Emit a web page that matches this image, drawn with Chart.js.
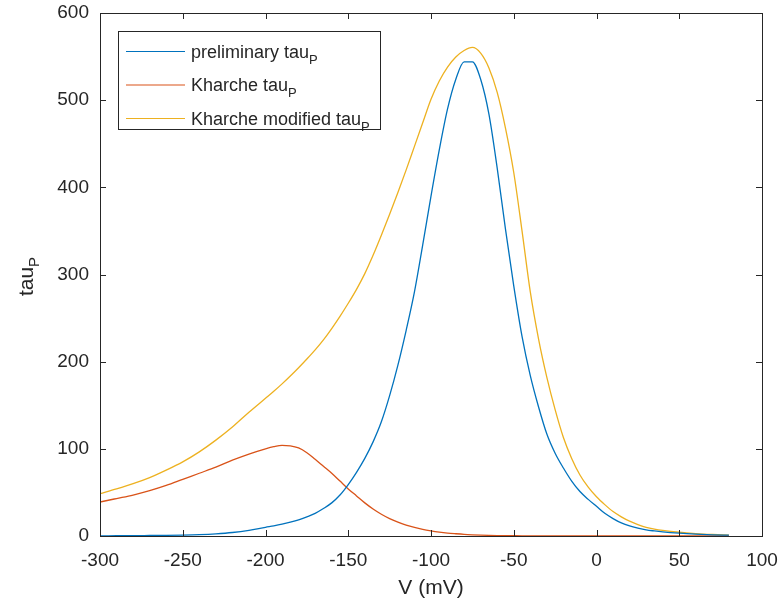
<!DOCTYPE html>
<html>
<head>
<meta charset="utf-8">
<script src="https://cdn.jsdelivr.net/npm/chart.js@4/dist/chart.umd.min.js"></script>
<style>
    html, body { margin: 0; padding: 0; background: #fff; }
    #wrap { width: 781px; height: 604px; position: relative; }
</style>
</head>
<body>
<div id="wrap"><canvas id="tauChart" width="781" height="604"></canvas></div>
<script>
// Membrane voltage samples (mV)
const voltages = [-300, -290, -280, -270, -260, -250, -240, -230, -220, -210, -200,
    -195, -190, -185, -180, -175, -170, -165, -160, -155, -150, -145, -140, -135, -130, -125,
    -120, -115, -110, -105, -100, -95, -90, -85, -80, -75, -70, -65, -60, -55, -50, -45,
    -40, -35, -30, -25, -20, -15, -10, -5, 0, 5, 10, 15, 20, 25, 30, 35, 40,
    50, 60, 70, 80];

// tau_P curves
const preliminaryTau = [0.2, 0.3, 0.4, 0.6, 0.8, 1.1, 1.6, 2.5, 4, 6.5, 10,
    11.6, 13.5, 15.8, 18.5, 22, 26, 31.5, 38, 47, 59, 73, 89, 108, 131, 161,
    196, 236, 280, 334, 390, 443, 490, 524, 544, 544, 524, 484, 422, 352, 287, 229,
    184, 148, 117, 95, 78, 63, 51, 42, 34, 26, 20, 15, 11.5, 9, 7, 5.8, 4.8,
    3.3, 2.2, 1.4, 0.9];
const kharcheTau = [39, 43, 47, 52, 58, 65, 72, 79, 87, 94, 100,
    102.5, 104, 103.5, 101, 95.5, 88, 80, 72, 63, 54, 46, 38, 31, 25, 20,
    16, 12.5, 9.8, 7.6, 5.9, 4.5, 3.4, 2.6, 1.9, 1.4, 1.0, 0.7, 0.5, 0.4, 0.3, 0.2,
    0.15, 0.1, 0.08, 0.06, 0.04, 0.03, 0.02, 0.01, 0, 0, 0, 0, 0, 0, 0, 0, 0,
    0, 0, 0, 0];
const kharcheModifiedTau = [48.5, 54, 60, 67, 75.5, 85, 96.5, 110, 125, 142, 158,
    166, 174.5, 183.5, 193, 203, 213.5, 225, 238, 252, 267, 283, 301, 322, 345, 369,
    394, 420, 447, 474, 501, 522, 538, 549.5, 557, 560.5, 554, 537, 509, 468, 417, 350,
    280, 226, 182, 145, 113, 89, 70, 56, 45, 36, 28, 22, 17, 13, 10, 8, 6.5,
    4.3, 2.8, 1.8, 1.1];

const seriesNames = ['preliminary tau', 'Kharche tau', 'Kharche modified tau'];
const seriesColors = ['#0072BD', '#D95319', '#EDB120'];

const xTicks = [-300, -250, -200, -150, -100, -50, 0, 50, 100];
const yTicks = [0, 100, 200, 300, 400, 500, 600];

const AXIS_COLOR = '#262626';
const FONT = 'Arial, "Liberation Sans", Helvetica, sans-serif';

function toPoints(values) {
    return voltages.map((v, i) => ({ x: v, y: values[i] }));
}

// MATLAB-like box, inward ticks, y label with subscript and legend
const matlabAxesPlugin = {
    id: 'matlabAxes',
    afterDraw: (chart) => {
        const ctx = chart.ctx;
        const area = chart.chartArea;
        const xs = chart.scales.x;
        const ys = chart.scales.y;
        const tick = 6;

        ctx.save();
        ctx.strokeStyle = AXIS_COLOR;
        ctx.lineWidth = 1;
        ctx.strokeRect(Math.round(area.left) + 0.5, Math.round(area.top) + 0.5,
            Math.round(area.right - area.left), Math.round(area.bottom - area.top));

        ctx.beginPath();
        xTicks.forEach(v => {
            const px = Math.round(xs.getPixelForValue(v)) + 0.5;
            ctx.moveTo(px, area.bottom);
            ctx.lineTo(px, area.bottom - tick);
            ctx.moveTo(px, area.top);
            ctx.lineTo(px, area.top + tick);
        });
        yTicks.forEach(v => {
            const py = Math.round(ys.getPixelForValue(v)) + 0.5;
            ctx.moveTo(area.left, py);
            ctx.lineTo(area.left + tick, py);
            ctx.moveTo(area.right, py);
            ctx.lineTo(area.right - tick, py);
        });
        ctx.stroke();

        // y axis title: tau_P, rotated
        ctx.fillStyle = AXIS_COLOR;
        ctx.translate(33, (area.top + area.bottom) / 2 + 2);
        ctx.rotate(-Math.PI / 2);
        ctx.font = '21px ' + FONT;
        const baseW = ctx.measureText('tau').width;
        ctx.font = '15px ' + FONT;
        const subW = ctx.measureText('P').width;
        const startX = -(baseW + subW) / 2;
        ctx.textBaseline = 'alphabetic';
        ctx.textAlign = 'left';
        ctx.font = '21px ' + FONT;
        ctx.fillText('tau', startX, 0);
        ctx.font = '15px ' + FONT;
        ctx.fillText('P', startX + baseW, 6);
        ctx.restore();

        // legend
        ctx.save();
        const box = { left: 118.5, top: 31.5, right: 380.5, bottom: 129.5 };
        ctx.fillStyle = '#fff';
        ctx.fillRect(box.left, box.top, box.right - box.left, box.bottom - box.top);
        ctx.strokeStyle = AXIS_COLOR;
        ctx.lineWidth = 1;
        ctx.strokeRect(box.left, box.top, box.right - box.left, box.bottom - box.top);
        const rows = [51.5, 85, 118.5];
        seriesNames.forEach((name, i) => {
            const y = rows[i];
            ctx.strokeStyle = seriesColors[i];
            ctx.lineWidth = 1.2;
            ctx.beginPath();
            ctx.moveTo(126, y);
            ctx.lineTo(185, y);
            ctx.stroke();
            ctx.fillStyle = AXIS_COLOR;
            ctx.textBaseline = 'alphabetic';
            ctx.textAlign = 'left';
            ctx.font = '18px ' + FONT;
            ctx.fillText(name, 191, y + 6);
            const w = ctx.measureText(name).width;
            ctx.font = '13px ' + FONT;
            ctx.fillText('P', 191 + w, y + 12);
        });
        ctx.restore();
    }
};

Chart.register(matlabAxesPlugin);

const ctx = document.getElementById('tauChart').getContext('2d');
const chart = new Chart(ctx, {
    type: 'line',
    data: {
        datasets: [preliminaryTau, kharcheTau, kharcheModifiedTau].map((vals, i) => ({
            label: seriesNames[i] + 'P',
            data: toPoints(vals),
            borderColor: seriesColors[i],
            backgroundColor: seriesColors[i],
            borderWidth: 1.3,
            pointRadius: 0,
            fill: false,
            cubicInterpolationMode: 'monotone'
        }))
    },
    options: {
        responsive: false,
        animation: false,
        layout: { padding: { top: 13, right: 19, left: 0, bottom: 0 } },
        plugins: {
            legend: { display: false },
            tooltip: { enabled: false }
        },
        scales: {
            x: {
                type: 'linear',
                min: -300,
                max: 100,
                afterBuildTicks: (scale) => { scale.ticks = xTicks.map(v => ({ value: v })); },
                afterFit: (scale) => {
                    scale.height = 68;
                    scale.paddingLeft = 0;
                    scale.paddingRight = 0;
                },
                grid: { display: false },
                border: { display: false },
                ticks: {
                    color: AXIS_COLOR,
                    font: { family: FONT, size: 19 },
                    padding: 5,
                    maxRotation: 0
                },
                title: {
                    display: true,
                    text: 'V (mV)',
                    color: AXIS_COLOR,
                    font: { family: FONT, size: 21 },
                    padding: { top: 0, bottom: 3 }
                }
            },
            y: {
                type: 'linear',
                min: 0,
                max: 600,
                afterBuildTicks: (scale) => { scale.ticks = yTicks.map(v => ({ value: v })); },
                afterFit: (scale) => {
                    scale.width = 100;
                    scale.paddingTop = 0;
                    scale.paddingBottom = 0;
                },
                grid: { display: false },
                border: { display: false },
                ticks: {
                    color: AXIS_COLOR,
                    font: { family: FONT, size: 19 },
                    padding: 3
                }
            }
        }
    }
});
</script>
</body>
</html>
